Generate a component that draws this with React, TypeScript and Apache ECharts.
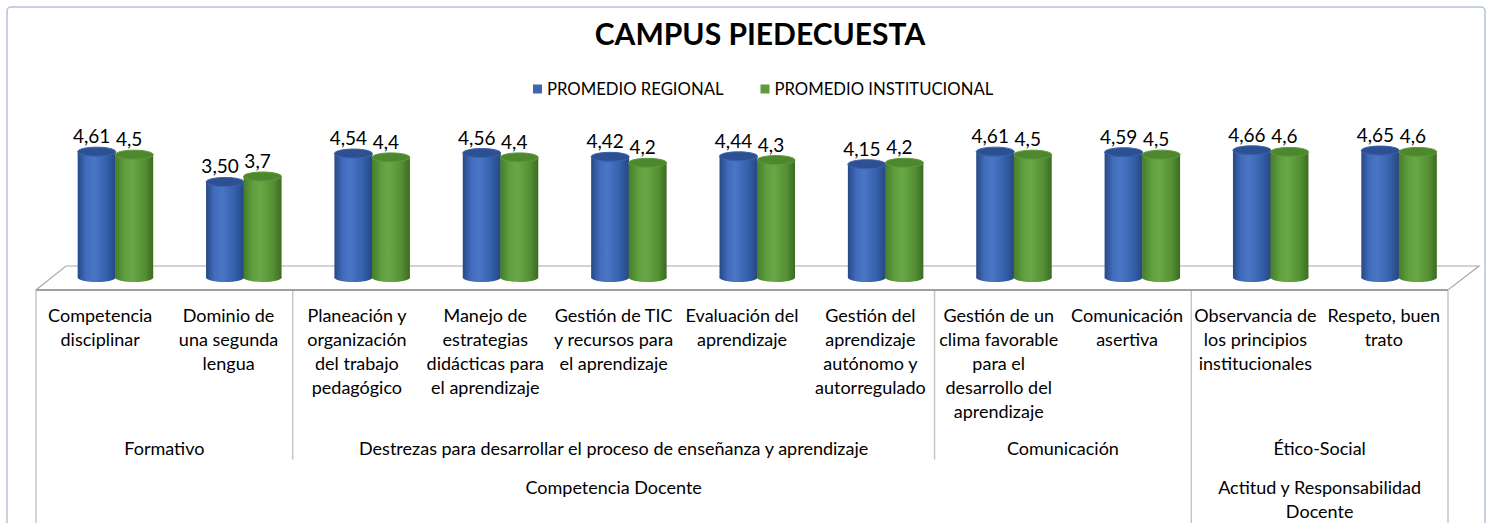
import React, { useEffect, useRef } from 'react';
import * as echarts from 'echarts';

const categories = [
  'Competencia\ndisciplinar',
  'Dominio de\nuna segunda\nlengua',
  'Planeación y\norganización\ndel trabajo\npedagógico',
  'Manejo de\nestrategias\ndidácticas para\nel aprendizaje',
  'Gestión de TIC\ny recursos para\nel aprendizaje',
  'Evaluación del\naprendizaje',
  'Gestión del\naprendizaje\nautónomo y\nautorregulado',
  'Gestión de un\nclima favorable\npara el\ndesarrollo del\naprendizaje',
  'Comunicación\nasertiva',
  'Observancia de\nlos principios\ninstitucionales',
  'Respeto, buen\ntrato',
];
const regional = [4.61, 3.5, 4.54, 4.56, 4.42, 4.44, 4.15, 4.61, 4.59, 4.66, 4.65];
const institucional = [4.5, 3.7, 4.4, 4.4, 4.2, 4.3, 4.2, 4.5, 4.5, 4.6, 4.6];

const level2Names = ['Formativo', 'Destrezas para desarrollar el proceso de enseñanza y aprendizaje', 'Comunicación', 'Ético-Social'];
const level2Spans = [[0, 2], [2, 7], [7, 9], [9, 11]];
const level3Names = ['Competencia Docente', 'Actitud y Responsabilidad\nDocente'];
const level3Spans = [[0, 9], [9, 11]];
// boundaries: [position, 1 = full height (level 3), 0 = level 2 only]
const boundaries = [[0, 1], [2, 0], [7, 0], [9, 1], [11, 1]];

const seriesNames = ['PROMEDIO REGIONAL', 'PROMEDIO INSTITUCIONAL'];

const FONT = 'Lato, sans-serif';
const LABEL_SIZE = 18;

const BLUE = {
  legend: '#3f66b3',
  body: [
    [0, '#284885'],
    [0.22, '#416cbb'],
    [0.42, '#4a76c6'],
    [0.75, '#3560ab'],
    [1, '#274683'],
  ],
  top: '#2c5092',
  rim: '#3b63ae',
};
const GREEN = {
  legend: '#5e9c3b',
  body: [
    [0, '#467c2b'],
    [0.25, '#5f9f3e'],
    [0.45, '#68a846'],
    [0.78, '#558f34'],
    [1, '#3b6b21'],
  ],
  top: '#4d882e',
  rim: '#5d9b3b',
};

function grad(stops: any[]) {
  return new echarts.graphic.LinearGradient(
    0, 0, 1, 0,
    stops.map((s) => ({ offset: s[0], color: s[1] }))
  );
}

function cylinderSeries(name: string, values: number[], offset: number, pal: any, decimals: number) {
  return {
    name,
    type: 'custom',
    xAxisIndex: 0,
    yAxisIndex: 0,
    itemStyle: { color: pal.legend },
    data: values.map((v, i) => [i, v]),
    renderItem: (params: any, api: any) => {
      const idx = api.value(0);
      const v = api.value(1);
      const top = api.coord([idx, v]);
      const base = api.coord([idx, 0]);
      const w = 38;
      const ry = 4.5;
      const cx = top[0] + offset;
      const x = cx - w / 2;
      return {
        type: 'group',
        children: [
          {
            type: 'ellipse',
            shape: { cx, cy: base[1], rx: w / 2, ry },
            style: { fill: grad(pal.body) },
          },
          {
            type: 'rect',
            shape: { x, y: top[1], width: w, height: base[1] - top[1] },
            style: { fill: grad(pal.body) },
          },
          {
            type: 'ellipse',
            shape: { cx, cy: top[1], rx: w / 2, ry },
            style: { fill: pal.top, stroke: pal.rim, lineWidth: 1 },
          },
          {
            type: 'text',
            x: cx - 5,
            y: top[1] - 16,
            style: {
              text: v.toFixed(decimals).replace('.', ','),
              fill: '#000',
              fontSize: 19,
              fontFamily: FONT,
              align: 'center',
              verticalAlign: 'middle',
            },
          },
        ],
      };
    },
  };
}

export default function App() {
  const ref = useRef<HTMLDivElement>(null);
  useEffect(() => {
    const chart = echarts.init(ref.current!, undefined, { renderer: 'svg' });
    const option: any = {
      animation: false,
      backgroundColor: '#ffffff',
      textStyle: { fontFamily: FONT },
      graphic: [
        {
          type: 'rect',
          shape: { x: 7, y: 7, width: 1478, height: 540, r: 4 },
          style: { fill: 'none', stroke: '#b6c2d6', lineWidth: 1.5 },
          silent: true,
          z: -10,
        },
        {
          type: 'text',
          x: 760,
          y: 33,
          style: {
            text: 'CAMPUS PIEDECUESTA',
            fill: '#000',
            fontSize: 30,
            fontWeight: 'bold',
            fontFamily: FONT,
            align: 'center',
            verticalAlign: 'middle',
          },
        },
      ],
      legend: {
        data: seriesNames,
        left: 528,
        top: 74,
        icon: 'rect',
        itemWidth: 9,
        itemHeight: 9,
        itemGap: 37,
        textStyle: { fontSize: 16.7, color: '#000', fontFamily: FONT, lineHeight: 20 },
      },
      grid: { left: 36, right: 40, top: 141, bottom: 245.5 },
      xAxis: [
        {
          type: 'category',
          data: categories,
          axisLine: { show: false },
          axisTick: { show: false },
          splitLine: { show: false },
          axisLabel: {
            interval: 0,
            margin: 25.5,
            fontSize: LABEL_SIZE,
            lineHeight: 24,
            color: '#000',
            fontFamily: FONT,
            align: 'center',
          },
        },
        { type: 'value', min: 0, max: 11, show: false },
      ],
      yAxis: [{ type: 'value', min: 0, max: 5, show: false }],
      series: [
        {
          type: 'custom',
          name: 'floor',
          xAxisIndex: 1,
          yAxisIndex: 0,
          silent: true,
          z: 1,
          data: [[0, 11]],
          renderItem: (params: any, api: any) => {
            const p0 = api.coord([api.value(0), 0]);
            const p1 = api.coord([api.value(1), 0]);
            const yf = p0[1] + 12.5;
            const yb = p0[1] - 11.5;
            return {
              type: 'group',
              children: [
                {
                  type: 'polygon',
                  shape: { points: [[p0[0], yf], [p1[0], yf], [p1[0] + 31, yb], [p0[0] + 30, yb]] },
                  style: { fill: '#ffffff', stroke: '#a8a8a8', lineWidth: 1.2 },
                },
                {
                  type: 'line',
                  shape: { x1: p0[0], y1: yf, x2: p1[0], y2: yf },
                  style: { stroke: '#a0a0a0', lineWidth: 2 },
                },
              ],
            };
          },
        },
        {
          type: 'custom',
          name: 'separators',
          xAxisIndex: 1,
          yAxisIndex: 0,
          silent: true,
          z: 1,
          data: boundaries,
          renderItem: (params: any, api: any) => {
            const p = api.coord([api.value(0), 0]);
            const full = api.value(1) === 1;
            const yf = p[1] + 13.5;
            return {
              type: 'line',
              shape: { x1: p[0], y1: yf, x2: p[0], y2: full ? 540 : p[1] + 182 },
              style: { stroke: '#c6c6c6', lineWidth: 1.5 },
            };
          },
        },
        {
          type: 'custom',
          name: 'level2',
          xAxisIndex: 1,
          yAxisIndex: 0,
          silent: true,
          data: level2Spans,
          renderItem: (params: any, api: any) => {
            const a = api.coord([api.value(0), 0]);
            const b = api.coord([api.value(1), 0]);
            return {
              type: 'text',
              x: (a[0] + b[0]) / 2,
              y: a[1] + 170.5,
              style: {
                text: level2Names[params.dataIndex],
                fill: '#000',
                fontSize: LABEL_SIZE,
                fontFamily: FONT,
                align: 'center',
                verticalAlign: 'middle',
              },
            };
          },
        },
        {
          type: 'custom',
          name: 'level3',
          xAxisIndex: 1,
          yAxisIndex: 0,
          silent: true,
          data: level3Spans,
          renderItem: (params: any, api: any) => {
            const a = api.coord([api.value(0), 0]);
            const b = api.coord([api.value(1), 0]);
            return {
              type: 'text',
              x: (a[0] + b[0]) / 2,
              y: a[1] + 197.5,
              style: {
                text: level3Names[params.dataIndex],
                fill: '#000',
                fontSize: LABEL_SIZE,
                lineHeight: 24,
                fontFamily: FONT,
                align: 'center',
                verticalAlign: 'top',
              },
            };
          },
        },
        { ...cylinderSeries(seriesNames[0], regional, -3.5, BLUE, 2), z: 3 },
        { ...cylinderSeries(seriesNames[1], institucional, 34, GREEN, 1), z: 4 },
      ],
    };
    chart.setOption(option);
    return () => chart.dispose();
  }, []);
  return (
    <div
      ref={ref}
      style={{ position: 'fixed', left: 0, top: 0, width: 1488, height: 523 }}
    />
  );
}
